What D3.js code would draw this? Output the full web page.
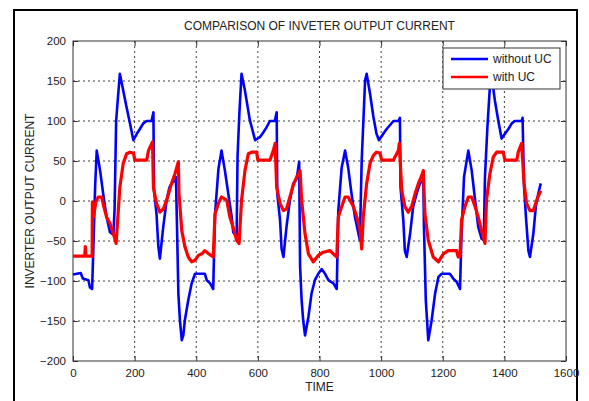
<!DOCTYPE html>
<html>
<head>
<meta charset="utf-8">
<script src="https://cdn.jsdelivr.net/npm/d3@7"></script>
<style>
  body { margin: 0; background: #fff; }
  text { font-family: "Liberation Sans", Arial, sans-serif; fill: #222; }
</style>
</head>
<body>
<svg id="chart" width="589" height="401"></svg>
<script>
// Axis ticks
const xTicks = [0, 200, 400, 600, 800, 1000, 1200, 1400, 1600];
const yTicks = [-200, -150, -100, -50, 0, 50, 100, 150, 200];

// Without UC (blue)
const timeWithoutUC = [0, 25, 32, 50, 55, 62, 66, 72, 77, 88, 98, 109, 120, 131, 135, 140, 145, 152, 163, 174,
  185, 196, 207, 217, 228, 239, 255, 261, 263, 271, 277, 282, 293, 304, 313, 320, 331, 334, 338, 342,
  347, 353, 358, 363, 374, 385, 396, 428, 434, 445, 455, 461, 472, 482, 493, 504, 515, 520, 531, 534,
  540, 547, 558, 574, 591, 607, 618, 628, 639, 655, 661, 663, 672, 677, 683, 693, 704, 715, 726, 734,
  737, 742, 747, 753, 764, 774, 785, 796, 807, 818, 829, 845, 856, 861, 872, 883, 893, 904, 915, 926,
  931, 937, 948, 953, 964, 975, 985, 993, 1007, 1018, 1029, 1040, 1056, 1061, 1063, 1072, 1077, 1083, 1094, 1104,
  1115, 1126, 1137, 1139, 1145, 1153, 1164, 1175, 1186, 1196, 1223, 1234, 1245, 1256, 1261, 1269, 1283, 1294, 1305, 1315,
  1326, 1333, 1337, 1345, 1353, 1358, 1369, 1380, 1391, 1402, 1413, 1424, 1434, 1456, 1459, 1464, 1470, 1478, 1483, 1494,
  1502, 1510, 1518];
const currentWithoutUC = [-92, -90, -97, -99, -108, -110, -60, 20, 63, 38, 9, -20, -39, -42, -10, 100, 125, 159, 138, 117,
  97, 76, 84, 90, 97, 100, 100, 111, 13, -16, -57, -72, -32, 1, 17, 22, 26, 30, -40, -116,
  -149, -174, -168, -149, -124, -103, -91, -91, -99, -103, -110, -16, 40, 63, 38, 9, -20, -39, -45, 55,
  110, 159, 138, 101, 76, 80, 86, 92, 100, 100, 111, 9, -24, -60, -70, -32, 1, 22, 28, 49,
  -82, -124, -149, -168, -145, -116, -99, -91, -85, -91, -99, -103, -110, -12, 42, 63, 42, 9, -20, -40,
  -49, 51, 151, 159, 134, 105, 84, 76, 84, 90, 95, 100, 100, 104, 17, -24, -62, -70, -41, -7,
  9, 22, 26, -32, -124, -174, -149, -116, -95, -91, -91, -97, -101, -110, -41, 30, 63, 38, 1, -32,
  -47, -49, 30, 93, 143, 159, 126, 101, 78, 84, 90, 97, 100, 100, 104, 17, -20, -62, -70, -41,
  -7, 9, 22];

// With UC (red)
const timeWithUC = [0, 38, 40, 42, 62, 63, 66, 75, 82, 93, 100, 109, 120, 131, 140, 147, 152, 163, 174, 185,
  196, 201, 239, 245, 258, 261, 271, 282, 293, 304, 313, 320, 331, 342, 344, 353, 363, 374, 385, 396,
  407, 418, 428, 440, 455, 461, 472, 482, 499, 509, 520, 531, 539, 547, 558, 569, 580, 596, 600, 639,
  650, 656, 661, 672, 683, 693, 704, 715, 726, 737, 742, 753, 764, 780, 796, 812, 834, 850, 856, 861,
  872, 883, 893, 910, 921, 931, 937, 942, 953, 964, 975, 985, 996, 1002, 1040, 1045, 1056, 1059, 1067, 1077,
  1088, 1099, 1110, 1121, 1132, 1137, 1142, 1153, 1169, 1186, 1202, 1218, 1245, 1250, 1256, 1261, 1272, 1283, 1294, 1305,
  1315, 1326, 1337, 1342, 1353, 1364, 1375, 1396, 1402, 1440, 1445, 1456, 1464, 1472, 1483, 1494, 1505, 1518];
const currentWithUC = [-69, -69, -57, -69, -69, -1, -20, 0, 5, 5, -7, -20, -28, -41, -53, -12, 17, 47, 59, 61,
  60, 51, 51, 63, 74, 17, -3, -14, -10, 1, 13, 22, 34, 49, 9, -37, -57, -70, -76, -74,
  -68, -66, -62, -66, -70, -16, -3, 5, 1, -20, -33, -49, -53, 1, 38, 59, 61, 61, 51, 51,
  63, 72, 17, -3, -12, -10, 5, 20, 30, 38, 1, -41, -66, -76, -68, -64, -62, -68, -70, -20,
  -7, 5, 5, -7, -20, -35, -60, -20, 22, 47, 57, 61, 60, 51, 51, 55, 63, 72, 13, -7,
  -14, -7, 9, 22, 32, 38, -16, -49, -70, -76, -66, -62, -62, -70, -70, -24, -7, 5, 5, -7,
  -20, -37, -53, 1, 34, 55, 61, 61, 51, 51, 61, 72, 22, -3, -12, -12, 1, 13];

const seriesNames = ['without UC', 'with UC'];
const seriesColors = ['#0000ff', '#ff0000'];

const svg = d3.select('#chart');
const margin = { top: 41, right: 23, bottom: 40, left: 73 };
const width = 589 - margin.left - margin.right;
const height = 401 - margin.top - margin.bottom;

// outer figure frame
svg.append('rect')
    .attr('x', 14).attr('y', 10)
    .attr('width', 563).attr('height', 400)
    .attr('fill', 'none')
    .attr('stroke', '#000')
    .attr('stroke-width', 2);

const x = d3.scaleLinear().domain([0, 1600]).range([0, width]);
const y = d3.scaleLinear().domain([-200, 200]).range([height, 0]);

const g = svg.append('g').attr('transform', `translate(${margin.left},${margin.top})`);

// dotted grid
g.append('g').selectAll('line').data(xTicks.slice(1, -1)).join('line')
    .attr('x1', d => x(d)).attr('x2', d => x(d))
    .attr('y1', 0).attr('y2', height)
    .attr('stroke', '#000').attr('stroke-width', 1)
    .attr('stroke-dasharray', '2,3').attr('opacity', 0.75);
g.append('g').selectAll('line').data(yTicks.slice(1, -1)).join('line')
    .attr('y1', d => y(d)).attr('y2', d => y(d))
    .attr('x1', 0).attr('x2', width)
    .attr('stroke', '#000').attr('stroke-width', 1)
    .attr('stroke-dasharray', '2,3').attr('opacity', 0.75);

// axes (ticks inside like matlab)
const styleAxis = sel => {
    sel.select('.domain').remove();
    sel.selectAll('.tick line').attr('stroke', '#333');
    sel.selectAll('.tick text').style('font-size', '11.5px').attr('fill', '#222');
};
g.append('g').attr('transform', `translate(0,${height})`)
    .call(d3.axisBottom(x).tickValues(xTicks).tickSize(-5).tickPadding(8).tickFormat(d3.format('d')))
    .call(styleAxis);
g.append('g')
    .call(d3.axisLeft(y).tickValues(yTicks).tickSize(-5).tickPadding(7).tickFormat(d3.format('d')))
    .call(styleAxis);
g.append('g')
    .call(d3.axisTop(x).tickValues(xTicks).tickSize(-5).tickFormat(''))
    .call(styleAxis);
g.append('g').attr('transform', `translate(${width},0)`)
    .call(d3.axisRight(y).tickValues(yTicks).tickSize(-5).tickFormat(''))
    .call(styleAxis);

g.append('rect')
    .attr('width', width).attr('height', height)
    .attr('fill', 'none').attr('stroke', '#333').attr('stroke-width', 1);

// lines
const line = d3.line().x(d => x(d[0])).y(d => y(d[1]));
const blue = d3.zip(timeWithoutUC, currentWithoutUC);
const red = d3.zip(timeWithUC, currentWithUC);

g.append('path').datum(blue)
    .attr('fill', 'none').attr('stroke', seriesColors[0])
    .attr('stroke-width', 2.6).attr('stroke-linejoin', 'round')
    .attr('d', line);
g.append('path').datum(red)
    .attr('fill', 'none').attr('stroke', seriesColors[1])
    .attr('stroke-width', 3.2).attr('stroke-linejoin', 'round')
    .attr('d', line);

// title and labels
svg.append('text')
    .attr('x', margin.left + width / 2).attr('y', 30)
    .attr('text-anchor', 'middle').style('font-size', '12px')
    .text('COMPARISON OF INVETER OUTPUT CURRENT');
svg.append('text')
    .attr('x', margin.left + width / 2).attr('y', 391)
    .attr('text-anchor', 'middle').style('font-size', '12px')
    .text('TIME');
svg.append('text')
    .attr('transform', `translate(34,${margin.top + height / 2}) rotate(-90)`)
    .attr('text-anchor', 'middle').style('font-size', '12px')
    .text('INVERTER OUTPUT CURRENT');

// legend
const legend = svg.append('g').attr('transform', 'translate(443,48)');
legend.append('rect')
    .attr('width', 117).attr('height', 41)
    .attr('fill', '#fff').attr('stroke', '#333').attr('stroke-width', 1);
seriesNames.forEach((name, i) => {
    const ly = 11 + i * 18;
    legend.append('line')
        .attr('x1', 8).attr('x2', 45).attr('y1', ly).attr('y2', ly)
        .attr('stroke', seriesColors[i]).attr('stroke-width', 2.5);
    legend.append('text')
        .attr('x', 50).attr('y', ly + 4)
        .style('font-size', '12px')
        .text(name);
});
</script>
</body>
</html>
